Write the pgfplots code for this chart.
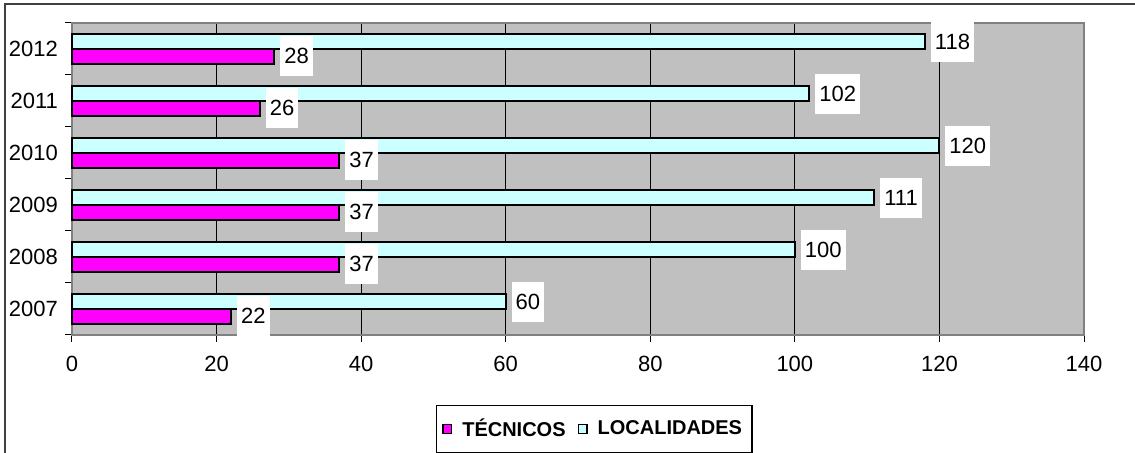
\documentclass[border=0pt]{standalone}
\usepackage{pgfplots}
\pgfplotsset{compat=1.18}
\usepackage{fontspec}
\setmainfont{Liberation Sans}

\definecolor{tecnicos}{HTML}{FF00FF}
\definecolor{localid}{HTML}{CCFFFF}
\definecolor{plotbg}{HTML}{C0C0C0}
\definecolor{framegray}{HTML}{808080}

\pgfplotsset{
  sqlegend/.style={legend image code/.code={%
    \draw[##1, draw=black, line width=0.6pt] (0pt,-2.2pt) rectangle (4.4pt,2.2pt);}},
}

\begin{document}
\begin{tikzpicture}[x=1pt,y=1pt]
\useasboundingbox (-36,-59) rectangle (531.5,167.5);
% outer chart frame (cropped on right and bottom)
\draw[black!75, line width=0.75pt] (-33.5,-80) -- (-33.5,165.5) -- (560,165.5);
\begin{axis}[
  at={(0,0)}, anchor=south west,
  scale only axis, width=506pt, height=156pt,
  xmin=0, xmax=140, ymin=-0.5, ymax=5.5,
  xtick={0,20,...,140},
  ytick={-0.5,0.5,1.5,2.5,3.5,4.5,5.5}, yticklabels={},
  extra y ticks={0,1,2,3,4,5},
  extra y tick labels={2007,2008,2009,2010,2011,2012},
  extra y tick style={major tick length=0pt, yticklabel style={xshift=-3.5pt}},
  xtick pos=bottom, ytick pos=left,
  tick align=outside, major tick length=3.5pt,
  tick style={black, line width=0.5pt},
  xticklabel style={yshift=-3.5pt},
  tick label style={font=\fontsize{11}{13}\selectfont},
  /pgf/number format/assume math mode=true,
  xmajorgrids, grid style={black, line width=0.5pt},
  axis background/.style={fill=plotbg},
  axis line style={framegray, line width=1pt},
  clip=false,
  point meta=x,
  nodes near coords,
  every node near coord/.append style={fill=white, anchor=west, inner xsep=2pt,
    minimum height=20pt, xshift=2.5pt, text=black,
    font=\fontsize{11}{13}\selectfont},
  reverse legend,
  legend columns=2,
  legend style={at={(0.516,-0.301)}, anchor=center, draw=black, line width=0.6pt,
    font=\bfseries\fontsize{10}{12}\selectfont, inner ysep=4.5pt, inner xsep=3pt,
    /tikz/every odd column/.append style={column sep=3pt},
    /tikz/every even column/.append style={column sep=4pt}},
]
\addplot[xbar, bar width=7.5pt, bar shift=3.75pt, fill=localid, draw=black,
  line width=1pt, nodes near coords,
  every node near coord/.append style={yshift=3.5pt}, sqlegend]
  coordinates {(60,0) (100,1) (111,2) (120,3) (102,4) (118,5)};
\addlegendentry{LOCALIDADES}
\addplot[xbar, bar width=7.5pt, bar shift=-3.75pt, fill=tecnicos, draw=black,
  line width=1pt, nodes near coords,
  every node near coord/.append style={yshift=-3.5pt}, sqlegend]
  coordinates {(22,0) (37,1) (37,2) (37,3) (26,4) (28,5)};
\addlegendentry{TÉCNICOS}
\end{axis}
\end{tikzpicture}
\end{document}
